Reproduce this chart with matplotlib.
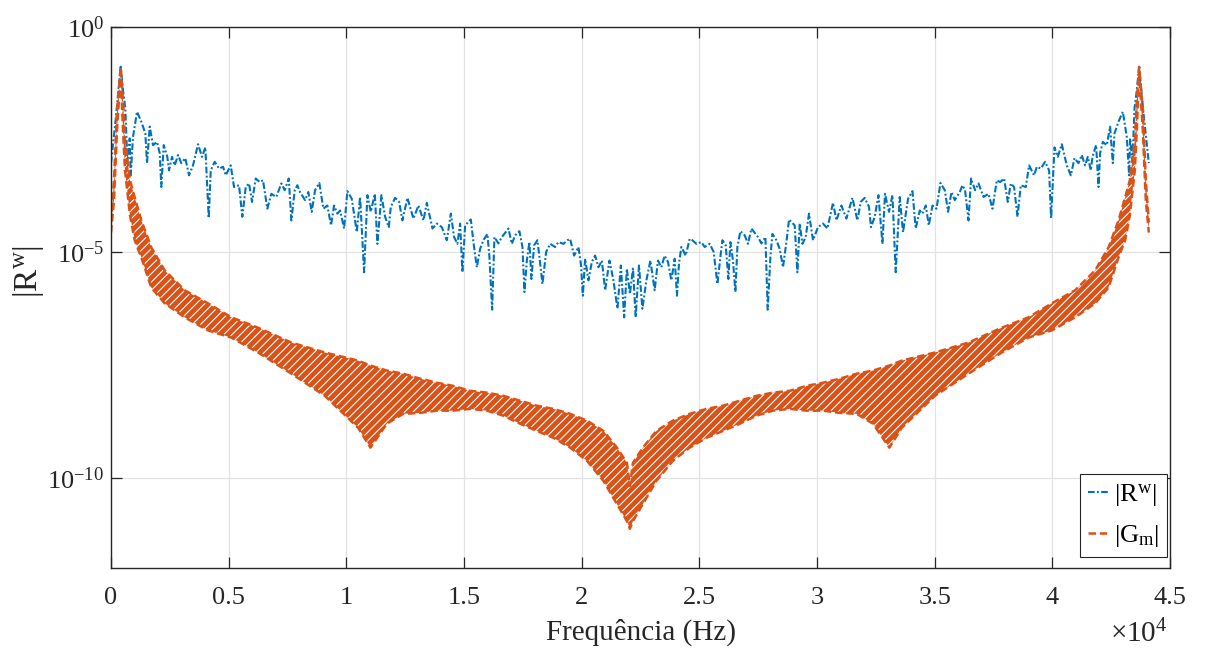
import numpy as np
import matplotlib
matplotlib.use("Agg")
import matplotlib.pyplot as plt
from matplotlib.lines import Line2D

# ---------------- data ----------------
# |R^w| : frequency (Hz) and log10 magnitude, left half (0 .. 22050 Hz)
rw_freq_left = [0, 210, 412, 510, 608, 693, 795, 837, 935, 1105,
                1288, 1458, 1530, 1645, 1785, 1955, 2070, 2138, 2240, 2393,
                2465, 2593, 2708, 2848, 2988, 3158, 3315, 3485, 3698, 3868,
                4008, 4153, 4238, 4408, 4590, 4760, 4875, 5088, 5228, 5440,
                5580, 5725, 5865, 5993, 6150, 6320, 6460, 6643, 6813, 7025,
                7238, 7383, 7553, 7663, 7808, 7918, 8033, 8245, 8385, 8530,
                8670, 8853, 9023, 9193, 9350, 9478, 9620, 9735, 9905, 10045,
                10230, 10445, 10585, 10755, 10895, 11040, 11210, 11320, 11490, 11648,
                11805, 11890, 12073, 12243, 12383, 12596, 12851, 13064, 13276, 13420,
                13660, 13845, 14058, 14270, 14440, 14580, 14720, 14835, 14933, 15048,
                15290, 15400, 15545, 15685, 15825, 15995, 16080, 16195, 16293, 16463,
                16608, 16888, 17033, 17173, 17356, 17483, 17568, 17670, 17780, 17865,
                17980, 18120, 18205, 18333, 18490, 18660, 18873, 19013, 19225, 19395,
                19510, 19680, 19863, 19965, 20050, 20148, 20288, 20433, 20573, 20713,
                20858, 20998, 21180, 21350, 21520, 21665, 21805, 21920, 22050]
rw_exp_left = [-3.02, -2.0, -0.88, -1.4, -1.80, -2.96, -2.47, -3.29, -2.44, -1.88,
               -2.10, -2.36, -3.02, -2.21, -2.62, -2.55, -2.80, -3.55, -2.62, -2.88,
               -3.18, -2.88, -3.07, -2.84, -3.02, -2.91, -3.29, -3.07, -2.60, -2.88,
               -2.67, -4.24, -3.18, -2.99, -3.14, -3.10, -3.29, -3.07, -3.55, -3.51,
               -4.21, -3.55, -3.47, -3.88, -3.36, -3.44, -3.40, -4.03, -3.70, -3.77,
               -3.47, -3.62, -3.36, -4.29, -3.62, -3.51, -3.66, -3.84, -3.66, -4.10,
               -3.62, -3.46, -4.03, -3.96, -4.40, -3.96, -4.14, -4.07, -4.47, -3.64,
               -3.81, -4.55, -3.77, -5.44, -3.73, -4.10, -3.70, -4.81, -3.73, -4.21,
               -4.44, -3.99, -3.79, -3.88, -4.29, -3.79, -4.25, -3.96, -4.29, -3.90,
               -4.47, -4.36, -4.44, -4.73, -4.14, -4.66, -4.81, -4.36, -5.44, -4.40,
               -4.27, -4.77, -5.33, -4.92, -4.73, -4.59, -5.10, -6.27, -4.66, -4.80,
               -4.66, -4.47, -4.81, -4.62, -4.53, -4.88, -5.88, -5.18, -4.77, -5.59,
               -4.84, -4.73, -5.10, -5.70, -4.99, -4.81, -4.88, -4.77, -4.81, -4.73,
               -4.70, -5.07, -4.88, -5.25, -5.96, -5.14, -5.62, -5.21, -5.07, -5.33,
               -5.18, -5.84, -5.18, -5.62, -6.25, -5.29, -6.44, -5.36, -5.92]
# |R^w| right half (22050 .. 44100 Hz)
rw_freq_right = [22180, 22295, 22435, 22580, 22750, 22920, 23102, 23242, 23387, 23527,
                 23667, 23812, 23952, 24050, 24135, 24237, 24420, 24590, 24705, 24875,
                 25087, 25227, 25440, 25610, 25767, 25895, 25980, 26120, 26235, 26320,
                 26430, 26532, 26617, 26744, 26927, 27067, 27212, 27492, 27637, 27807,
                 27905, 28020, 28105, 28275, 28415, 28555, 28700, 28810, 29052, 29167,
                 29265, 29380, 29520, 29660, 29830, 30042, 30255, 30440, 30680, 30824,
                 31036, 31249, 31504, 31717, 31857, 32027, 32210, 32295, 32452, 32610,
                 32780, 32890, 33060, 33205, 33345, 33515, 33655, 33870, 34055, 34195,
                 34365, 34480, 34622, 34750, 34907, 35077, 35247, 35430, 35570, 35715,
                 35855, 36067, 36182, 36292, 36437, 36547, 36717, 36862, 37075, 37287,
                 37457, 37640, 37780, 37950, 38107, 38235, 38375, 38520, 38660, 38872,
                 39012, 39225, 39340, 39510, 39692, 39862, 39947, 40092, 40232, 40402,
                 40615, 40785, 40942, 41112, 41252, 41392, 41507, 41635, 41707, 41860,
                 41962, 42030, 42145, 42315, 42455, 42570, 42642, 42812, 42995, 43165,
                 43263, 43305, 43407, 43492, 43590, 43688, 43890, 44100]
rw_exp_right = [-5.36, -6.44, -5.29, -6.25, -5.62, -5.18, -5.84, -5.18, -5.33, -5.07,
                -5.21, -5.62, -5.14, -5.96, -5.25, -4.88, -5.07, -4.70, -4.73, -4.81,
                -4.77, -4.88, -4.81, -4.99, -5.70, -5.10, -4.73, -4.84, -5.59, -4.77,
                -5.18, -5.88, -4.88, -4.53, -4.62, -4.81, -4.47, -4.66, -4.80, -4.66,
                -6.27, -5.10, -4.59, -4.73, -4.92, -5.33, -4.77, -4.27, -4.40, -5.44,
                -4.36, -4.81, -4.66, -4.14, -4.73, -4.44, -4.36, -4.47, -3.90, -4.29,
                -3.96, -4.25, -3.79, -4.29, -3.88, -3.79, -3.99, -4.44, -4.21, -3.73,
                -4.81, -3.70, -4.10, -3.73, -5.44, -3.77, -4.55, -3.81, -3.64, -4.47,
                -4.07, -4.14, -3.96, -4.40, -3.96, -4.03, -3.46, -3.62, -4.10, -3.66,
                -3.84, -3.66, -3.51, -3.62, -4.29, -3.36, -3.62, -3.47, -3.77, -3.70,
                -4.03, -3.40, -3.44, -3.36, -3.88, -3.47, -3.55, -4.21, -3.51, -3.55,
                -3.07, -3.29, -3.10, -3.14, -2.99, -3.18, -4.24, -2.67, -2.88, -2.60,
                -3.07, -3.29, -2.91, -3.02, -2.84, -3.07, -2.88, -3.18, -2.88, -2.62,
                -3.55, -2.80, -2.55, -2.62, -2.21, -3.02, -2.36, -2.10, -1.88, -2.44,
                -3.29, -2.47, -2.96, -1.80, -1.4, -0.88, -2.0, -3.02]

# |G_m| : dense oscillation, given by its upper and lower envelope (log10)
gm_freq_left = [0, 128, 255, 412, 510, 595, 808, 1007, 1288, 1713, 2283, 3133,
                4123, 5114, 6249, 7665, 9085, 10500, 11025, 11720, 12413, 13136,
                13846, 14538, 15261, 15971, 16664, 17387, 18097, 18789, 19512,
                20222, 20928, 21498, 21923, 22050]
gm_upper_left = [-4.33, -3.40, -1.84, -0.89, -1.62, -2.51, -3.40, -3.78, -4.29, -4.89,
                 -5.40, -5.84, -6.13, -6.44, -6.67, -7.00, -7.22, -7.40, -7.51, -7.62,
                 -7.69, -7.80, -7.89, -7.96, -8.07, -8.11, -8.18, -8.29, -8.40, -8.47,
                 -8.58, -8.73, -8.96, -9.33, -9.67, -10.18]
gm_lower_left = [-4.56, -3.84, -2.29, -1.00, -2.29, -3.18, -4.18, -4.73, -5.11, -5.78,
                 -6.13, -6.44, -6.73, -6.89, -7.22, -7.69, -8.18, -8.89, -9.33, -8.80,
                 -8.58, -8.56, -8.51, -8.51, -8.47, -8.51, -8.62, -8.80, -8.96, -9.11,
                 -9.33, -9.62, -10.07, -10.58, -10.96, -11.13]
gm_freq_right = [22177, 22602, 23172, 23878, 24588, 25311, 26003, 26713, 27436, 28129,
                 28839, 29562, 30254, 30964, 31687, 32380, 33075, 33600, 35015, 36435,
                 37851, 38986, 39977, 40967, 41817, 42387, 42812, 43093, 43292, 43505,
                 43590, 43688, 43845, 43972, 44100]
gm_upper_right = [-9.67, -9.33, -8.96, -8.73, -8.58, -8.47, -8.40, -8.29, -8.18, -8.11,
                  -8.07, -7.96, -7.89, -7.80, -7.69, -7.62, -7.51, -7.40, -7.22, -7.00,
                  -6.67, -6.44, -6.13, -5.84, -5.40, -4.89, -4.29, -3.78, -3.40, -2.51,
                  -1.62, -0.89, -1.84, -3.40, -4.33]
gm_lower_right = [-10.96, -10.58, -10.07, -9.62, -9.33, -9.11, -8.96, -8.80, -8.62, -8.51,
                  -8.47, -8.51, -8.51, -8.56, -8.58, -8.80, -9.33, -8.89, -8.18, -7.69,
                  -7.22, -6.89, -6.73, -6.44, -6.13, -5.78, -5.11, -4.73, -4.18, -3.18,
                  -2.29, -1.00, -2.29, -3.84, -4.56]

xtick_values = [0, 5000, 10000, 15000, 20000, 25000, 30000, 35000, 40000, 45000]
xtick_labels = ["0", "0.5", "1", "1.5", "2", "2.5", "3", "3.5", "4", "4.5"]
ytick_exps = [-10, -5, 0]
legend_labels = [r"$|\mathrm{R}^{\mathrm{w}}|$", r"$|\mathrm{G}_{\mathrm{m}}|$"]

# ---------------- style ----------------
BLUE = "#0072BD"
ORANGE = "#D95319"
AXC = "#262626"

plt.rcParams["font.family"] = ["Liberation Serif", "DejaVu Serif"]
plt.rcParams["mathtext.fontset"] = "custom"
plt.rcParams["mathtext.rm"] = "Liberation Serif"
plt.rcParams["mathtext.it"] = "Liberation Serif:italic"
plt.rcParams["mathtext.bf"] = "Liberation Serif:bold"
plt.rcParams["hatch.linewidth"] = 0.8

rw_freq = np.array(rw_freq_left + rw_freq_right, dtype=float)
rw_mag = 10.0 ** np.array(rw_exp_left + rw_exp_right)
gm_freq = np.array(gm_freq_left + gm_freq_right, dtype=float)
gm_hi = 10.0 ** np.array(gm_upper_left + gm_upper_right)
gm_lo = 10.0 ** np.array(gm_lower_left + gm_lower_right)

fig = plt.figure(figsize=(12.08, 6.57), dpi=100)
ax = fig.add_axes([111 / 1208, 1 - 568 / 657, (1170 - 111) / 1208, (568 - 27) / 657])

BLUE_DASH = (3.2, 1.1, 0.9, 1.1)
ax.plot(rw_freq, rw_mag, color=BLUE, ls="-.", dashes=BLUE_DASH, lw=1.5, zorder=3)

ax.fill_between(gm_freq, gm_hi, gm_lo, facecolor=ORANGE, edgecolor="none", lw=0, zorder=4)
ax.fill_between(gm_freq, gm_hi, gm_lo, facecolor="none", edgecolor="white", hatch="////",
                lw=0, zorder=4)
ax.plot(gm_freq, gm_hi, color=ORANGE, ls="--", dashes=(3, 1.5), lw=1.8, zorder=5)
ax.plot(gm_freq, gm_lo, color=ORANGE, ls="--", dashes=(3, 1.5), lw=1.8, zorder=5)

ax.set_yscale("log")
ax.set_xlim(0, 45000)
ax.set_ylim(1e-12, 1)
ax.set_xticks(xtick_values)
ax.set_xticklabels(xtick_labels)
ax.set_yticks([10.0 ** e for e in ytick_exps])
ax.set_yticklabels([r"$10^{%d}$" % e for e in ytick_exps])
ax.minorticks_off()

ax.grid(True, color="#e3e3e3", lw=0.9)
ax.set_axisbelow(True)
for s in ax.spines.values():
    s.set_color(AXC)
    s.set_linewidth(1.0)
    s.set_zorder(6)
ax.tick_params(axis="both", which="major", direction="in", length=8, width=0.9,
               color=AXC, labelcolor=AXC, labelsize=19, top=True, right=True)
ax.tick_params(axis="x", pad=14)
ax.tick_params(axis="y", pad=5)

ax.set_xlabel("Frequência (Hz)", fontsize=21, color=AXC)
ax.xaxis.set_label_coords(0.5, -0.094)
ax.set_ylabel(r"$|\mathrm{R}^{\mathrm{w}}|$", fontsize=24, color=AXC)
ax.yaxis.set_label_coords(-0.061, 0.549)

ax.annotate(r"$\times10^{4}$", xy=(1, 0), xycoords="axes fraction",
            xytext=(-2, -58), textcoords="offset points", ha="right", va="bottom",
            fontsize=21, color=AXC)

handles = [Line2D([], [], color=BLUE, ls="-.", dashes=BLUE_DASH, lw=1.5),
           Line2D([], [], color=ORANGE, ls="--", dashes=(3, 1.5), lw=1.8)]
leg = ax.legend(handles, legend_labels, loc="lower right",
                bbox_to_anchor=(1 - 3 / 1059, 11 / 541), borderaxespad=0,
                fontsize=19, frameon=True, fancybox=False, framealpha=1, edgecolor=AXC,
                handlelength=0.8, handletextpad=0.2, borderpad=0.3,
                labelspacing=0.55)
leg.get_frame().set_linewidth(0.8)
leg.set_zorder(10)

fig.savefig("out.png", dpi=100)
